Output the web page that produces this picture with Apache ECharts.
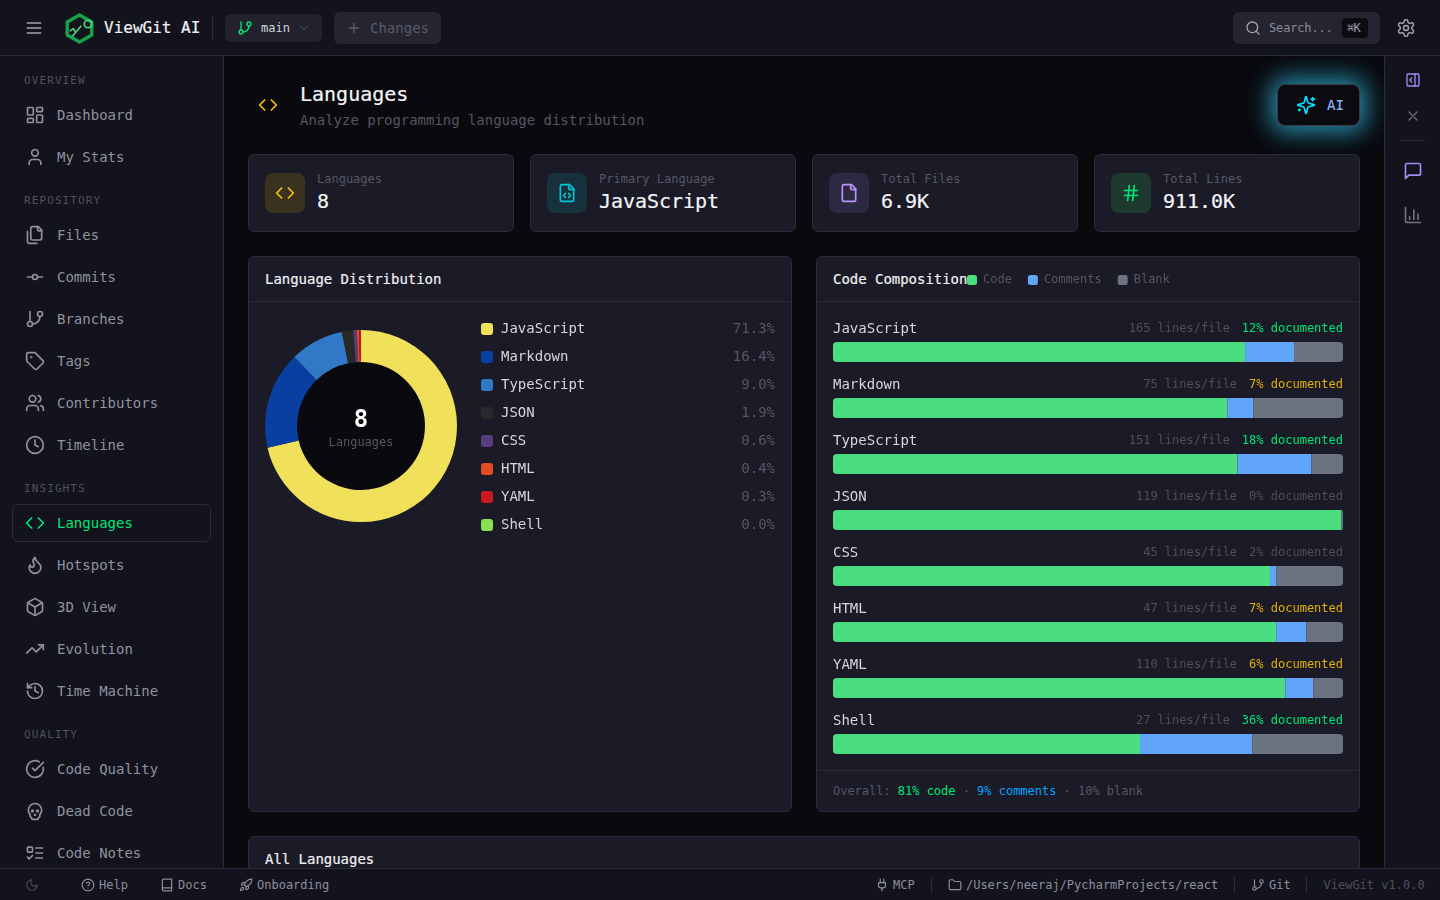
<!DOCTYPE html>
<html><head><meta charset="utf-8">
<script src="https://cdn.jsdelivr.net/npm/echarts@6/dist/echarts.min.js"></script>
<style>
html,body{margin:0;padding:0;width:1440px;height:900px;overflow:hidden;background:#09090e;font-family:"DejaVu Sans Mono",monospace}
#root{position:absolute;left:0;top:0;width:1440px;height:900px;overflow:hidden}
.b{position:absolute;box-sizing:border-box}
.t{position:absolute;white-space:pre;line-height:1;transform:translateY(-50%)}
svg.i{position:absolute;fill:none;stroke-linecap:round;stroke-linejoin:round}
</style></head><body><div id="root"></div>
<script>
// ---- chart data ----
const languages   = ['JavaScript','Markdown','TypeScript','JSON','CSS','HTML','YAML','Shell'];
const sharePct    = [71.3,16.4,9.0,1.9,0.6,0.4,0.3,0.0];
const langColors  = ['#f1e05a','#083fa1','#3178c6','#292929','#563d7c','#e34c26','#cb171e','#89e051'];
const codePct     = [80.8,77.3,79.3,99.7,85.7,86.9,88.7,60.2];
const commentPct  = [9.6,5.1,14.5,0,1.2,5.9,5.5,22.0];
const blankPct    = [9.6,17.6,6.2,0.3,13.1,7.2,5.8,17.8];
const linesPerFile= [165,75,151,119,45,47,110,27];
const documented  = [12,7,18,0,2,7,6,36];
const statLabels  = ['Languages','Primary Language','Total Files','Total Lines'];
const statValues  = ['8','JavaScript','6.9K','911.0K'];

const C={bg:'#09090e',bar:'#12131c',card:'#1a1b26',line:'#2a2b38',nav:'#91919f',dim:'#565664',
  sec:'#51515f',green:'#00e676',amber:'#ffc107',code:'#4ade80',com:'#60a5fa',blank:'#6b7280'};
const FONT='"DejaVu Sans Mono",monospace';
const MED='-webkit-text-stroke:.2px currentColor;';
const root=document.getElementById('root');
function box(x,y,w,h,st){const d=document.createElement('div');d.className='b';
  d.style.cssText+=`left:${x}px;top:${y}px;width:${w}px;height:${h}px;`+(st||'');root.appendChild(d);return d;}
function txt(x,y,s,size,color,st){const d=document.createElement('div');d.className='t';
  d.style.cssText+=`left:${x}px;top:${y}px;font-size:${size}px;color:${color};`+(st||'');d.innerHTML=s;root.appendChild(d);return d;}
function ico(cx,cy,size,color,inner,sw){const s=document.createElementNS('http://www.w3.org/2000/svg','svg');
  s.setAttribute('class','i');s.setAttribute('viewBox','0 0 24 24');s.setAttribute('width',size);s.setAttribute('height',size);
  s.style.left=(cx-size/2)+'px';s.style.top=(cy-size/2)+'px';s.style.stroke=color;s.style.strokeWidth=sw||2;s.innerHTML=inner;root.appendChild(s);}
const P=d=>`<path d="${d}"/>`;
const IC={
 dash:'<rect x="3" y="3" width="7" height="9" rx="1"/><rect x="14" y="3" width="7" height="5" rx="1"/><rect x="14" y="12" width="7" height="9" rx="1"/><rect x="3" y="16" width="7" height="5" rx="1"/>',
 user:P('M19 21v-2a4 4 0 0 0-4-4H9a4 4 0 0 0-4 4v2')+'<circle cx="12" cy="7" r="4"/>',
 files:P('M20 7h-3a2 2 0 0 1-2-2V2')+P('M9 18a2 2 0 0 1-2-2V4a2 2 0 0 1 2-2h7l4 4v10a2 2 0 0 1-2 2Z')+P('M3 7.6v12.8A1.6 1.6 0 0 0 4.6 22h9.8'),
 commit:'<circle cx="12" cy="12" r="3"/>'+P('M3 12h6M15 12h6'),
 branch:P('M6 3v12')+'<circle cx="18" cy="6" r="3"/><circle cx="6" cy="18" r="3"/>'+P('M18 9a9 9 0 0 1-9 9'),
 tag:P('M12.586 2.586A2 2 0 0 0 11.172 2H4a2 2 0 0 0-2 2v7.172a2 2 0 0 0 .586 1.414l8.704 8.704a2.426 2.426 0 0 0 3.42 0l6.58-6.58a2.426 2.426 0 0 0 0-3.42z')+'<circle cx="7.5" cy="7.5" r=".5"/>',
 users:P('M16 21v-2a4 4 0 0 0-4-4H6a4 4 0 0 0-4 4v2')+'<circle cx="9" cy="7" r="4"/>'+P('M22 21v-2a4 4 0 0 0-3-3.87')+P('M16 3.13a4 4 0 0 1 0 7.75'),
 clock:'<circle cx="12" cy="12" r="10"/>'+P('M12 6v6l4 2'),
 code:P('M16 18l6-6-6-6')+P('M8 6l-6 6 6 6'),
 flame:P('M8.5 14.5A2.5 2.5 0 0 0 11 12c0-1.38-.5-2-1-3-1.072-2.143-.224-4.054 2-6 .5 2.5 2 4.9 4 6.5 2 1.6 3 3.5 3 5.5a7 7 0 1 1-14 0c0-1.153.433-2.294 1-3a2.5 2.5 0 0 0 2.5 2.5z'),
 box:P('M21 8a2 2 0 0 0-1-1.73l-7-4a2 2 0 0 0-2 0l-7 4A2 2 0 0 0 3 8v8a2 2 0 0 0 1 1.73l7 4a2 2 0 0 0 2 0l7-4A2 2 0 0 0 21 16Z')+P('m3.3 7 8.7 5 8.7-5')+P('M12 22V12'),
 trend:P('M22 7l-8.5 8.5-5-5L2 17')+P('M16 7h6v6'),
 hist:P('M3 12a9 9 0 1 0 9-9 9.75 9.75 0 0 0-6.74 2.74L3 8')+P('M3 3v5h5')+P('M12 7v5l4 2'),
 check:P('M21.801 10A10 10 0 1 1 17 3.335')+P('m9 11 3 3L22 4'),
 skull:P('m12.5 17-.5-1-.5 1h1z')+P('M15 22a1 1 0 0 0 1-1v-1a2 2 0 0 0 1.56-3.25 8 8 0 1 0-11.12 0A2 2 0 0 0 8 20v1a1 1 0 0 0 1 1z')+'<circle cx="15" cy="12" r="1"/><circle cx="9" cy="12" r="1"/>',
 todo:'<rect x="3" y="5" width="6" height="6" rx="1"/>'+P('m3 17 2 2 4-4')+P('M13 6h8M13 12h8M13 18h8'),
 plus:P('M5 12h14M12 5v14'),search:'<circle cx="11" cy="11" r="8"/>'+P('m21 21-4.3-4.3'),
 gear:P('M12.22 2h-.44a2 2 0 0 0-2 2v.18a2 2 0 0 1-1 1.73l-.43.25a2 2 0 0 1-2 0l-.15-.08a2 2 0 0 0-2.73.73l-.22.38a2 2 0 0 0 .73 2.73l.15.1a2 2 0 0 1 1 1.72v.51a2 2 0 0 1-1 1.74l-.15.09a2 2 0 0 0-.73 2.73l.22.38a2 2 0 0 0 2.73.73l.15-.08a2 2 0 0 1 2 0l.43.25a2 2 0 0 1 1 1.73V20a2 2 0 0 0 2 2h.44a2 2 0 0 0 2-2v-.18a2 2 0 0 1 1-1.73l.43-.25a2 2 0 0 1 2 0l.15.08a2 2 0 0 0 2.73-.73l.22-.39a2 2 0 0 0-.73-2.73l-.15-.08a2 2 0 0 1-1-1.74v-.5a2 2 0 0 1 1-1.74l.15-.09a2 2 0 0 0 .73-2.73l-.22-.38a2 2 0 0 0-2.73-.73l-.15.08a2 2 0 0 1-2 0l-.43-.25a2 2 0 0 1-1-1.73V4a2 2 0 0 0-2-2z')+'<circle cx="12" cy="12" r="3"/>',
 spark:P('M9.937 15.5A2 2 0 0 0 8.5 14.063l-6.135-1.582a.5.5 0 0 1 0-.962L8.5 9.936A2 2 0 0 0 9.937 8.5l1.582-6.135a.5.5 0 0 1 .963 0L14.063 8.5A2 2 0 0 0 15.5 9.937l6.135 1.581a.5.5 0 0 1 0 .964L15.5 14.063a2 2 0 0 0-1.437 1.437l-1.582 6.135a.5.5 0 0 1-.963 0z')+P('M20 3v4M22 5h-4M4 17v2M5 18H3'),
 fcode:P('M10 12.5 8 15l2 2.5')+P('m14 12.5 2 2.5-2 2.5')+P('M14 2v4a2 2 0 0 0 2 2h4')+P('M15 2H6a2 2 0 0 0-2 2v16a2 2 0 0 0 2 2h12a2 2 0 0 0 2-2V7z'),
 file:P('M15 2H6a2 2 0 0 0-2 2v16a2 2 0 0 0 2 2h12a2 2 0 0 0 2-2V7Z')+P('M14 2v4a2 2 0 0 0 2 2h4'),
 hash:P('M4 9h16M4 15h16M10 3 8 21M16 3l-2 18'),
 panel:'<rect x="3" y="3" width="18" height="18" rx="2"/>'+P('M15 3v18')+P('m10 15-3-3 3-3'),
 x:P('M18 6 6 18M6 6l12 12'),
 msg:P('M21 15a2 2 0 0 1-2 2H7l-4 4V5a2 2 0 0 1 2-2h14a2 2 0 0 1 2 2z'),
 chart:P('M3 3v16a2 2 0 0 0 2 2h16')+P('M18 17v-6M13 17V6M8 17v-3'),
 moon:P('M12 3a6 6 0 0 0 9 9 9 9 0 1 1-9-9Z'),
 help:'<circle cx="12" cy="12" r="10"/>'+P('M9.09 9a3 3 0 0 1 5.83 1c0 2-3 3-3 3')+P('M12 17h.01'),
 book:P('M4 19.5v-15A2.5 2.5 0 0 1 6.5 2H20v20H6.5a2.5 2.5 0 0 1 0-5H20'),
 rocket:P('M4.5 16.5c-1.5 1.26-2 5-2 5s3.74-.5 5-2c.71-.84.7-2.13-.09-2.91a2.18 2.18 0 0 0-2.91-.09z')+P('m12 15-3-3a22 22 0 0 1 2-3.95A12.88 12.88 0 0 1 22 2c0 2.72-.78 7.5-6 11a22.35 22.35 0 0 1-4 2z')+P('M9 12H4s.55-3.03 2-4c1.62-1.08 5 0 5 0')+P('M12 15v5s3.03-.55 4-2c1.08-1.62 0-5 0-5'),
 plug:P('M12 22v-5M9 8V2M15 8V2')+P('M18 8v5a4 4 0 0 1-4 4h-4a4 4 0 0 1-4-4V8Z'),
 folder:P('M20 20a2 2 0 0 0 2-2V8a2 2 0 0 0-2-2h-7.9a2 2 0 0 1-1.69-.9L9.6 3.9A2 2 0 0 0 7.93 3H4a2 2 0 0 0-2 2v13a2 2 0 0 0 2 2Z'),
 chev:P('m6 9 6 6 6-6'),menu:P('M4 6h16M4 12h16M4 18h16')
};
// ---- frame ----
box(0,0,1440,56,`background:${C.bar};border-bottom:1px solid ${C.line}`);
box(0,56,224,812,`background:${C.bar};border-right:1px solid ${C.line}`);
box(1384,56,56,812,`background:${C.bar};border-left:1px solid ${C.line}`);
// ---- top bar ----
ico(34,28,20,'#a4a4b0',IC.menu);
ico(79.5,28,31,'#16a34a',P('M12 1.5 21.5 7v10L12 22.5 2.5 17V7z'),2.6);
ico(87.5,24,10,'#4ade80','<circle cx="12" cy="12" r="9"/>',4);
ico(75,32,14,'#4ade80',P('M22 2 8 19')+P('M4 10l5-4 3 5'),2.6);
txt(104,27.5,'ViewGit AI',16,'#f0f0f4',MED);
box(212,16,1,24,`background:${C.line}`);
box(225,14,97,28,'background:#21222d;border-radius:6px');
ico(245,28,16,C.green,IC.branch);
txt(261,28,'main',12,'#d4d4dc');
ico(304,28,12,'#5d5d6b',IC.chev);
box(334,12,107,32,'background:#242530;border-radius:6px');
ico(354,28,16,'#5d5d6b',IC.plus);
txt(370,28,'Changes',14,'#5b5b69');
box(1233,12,147,32,'background:#242530;border-radius:6px');
ico(1253,28,16,'#a4a4b0',IC.search);
txt(1269,28,'Search...',12,'#8a8a98','letter-spacing:-.15px');
box(1342,18,26,20,'background:#0b0b10;border-radius:4px');
txt(1347,28,'⌘K',12,'#9a9aa6','letter-spacing:-.6px');
ico(1406,28,20,'#a4a4b0',IC.gear,1.8);
// ---- sidebar ----
const sections=[['OVERVIEW',80],['REPOSITORY',200],['INSIGHTS',488],['QUALITY',734]];
const navItems=[['Dashboard',115,'dash'],['My Stats',157,'user'],['Files',235,'files'],['Commits',277,'commit'],['Branches',319,'branch'],['Tags',361,'tag'],['Contributors',403,'users'],['Timeline',445,'clock'],['Languages',523,'code'],['Hotspots',565,'flame'],['3D View',607,'box'],['Evolution',649,'trend'],['Time Machine',691,'hist'],['Code Quality',769,'check'],['Dead Code',811,'skull'],['Code Notes',853,'todo']];
sections.forEach(s=>txt(24,s[1],s[0],11,C.sec,'letter-spacing:1.1px'));
box(12,504,199,38,`border:1px solid ${C.line};border-radius:6px`);
navItems.forEach(n=>{const on=n[0]==='Languages';ico(35,n[1],20,on?C.green:C.nav,IC[n[2]]);
  txt(57,n[1],n[0],14,on?C.green:C.nav);});
// ---- page header ----
ico(268,105,20,C.amber,IC.code);
txt(300,94,'Languages',20,'#f4f4f8',MED);
txt(300,120,'Analyze programming language distribution',14,C.dim,'letter-spacing:-.03px');
box(1277,84,83,42,'background:#0a0a10;border:1px solid #3a3b46;border-radius:8px;box-shadow:0 0 24px 6px rgba(50,190,230,.75)');
ico(1306,105,20,'#00e5ff',IC.spark);
txt(1327,105,'AI',14,'#8fb4f8',MED);
// ---- right rail ----
ico(1413,80,16,'#a78bfa',IC.panel);ico(1413,116,16,'#6a6a78',IC.x);
box(1401,140,24,1,`background:${C.line}`);
ico(1413,171,20,'#a78bfa',IC.msg);ico(1413,215,20,'#71717f',IC.chart);
// ---- stat cards ----
const statStyle=[['#39321f',C.amber,'code'],['#17323c','#00c4d8','fcode'],['#2d2942','#b794f6','file'],['#1e3a2e',C.green,'hash']];
statLabels.forEach((l,i)=>{const x=248+282*i;
  box(x,154,266,78,`background:${C.card};border:1px solid ${C.line};border-radius:6px`);
  box(x+17,173,40,40,`background:${statStyle[i][0]};border-radius:8px`);
  ico(x+37,193,20,statStyle[i][1],IC[statStyle[i][2]]);
  txt(x+69,179,l,12,C.dim);
  txt(x+69,201,statValues[i],20,'#f4f4f8',MED+'letter-spacing:-.04px');});
// ---- panels ----
[[248,544],[816,544]].forEach(p=>{box(p[0],256,p[1],556,`background:${C.card};border:1px solid ${C.line};border-radius:6px`);
  box(p[0]+1,301,p[1]-2,1,`background:${C.line}`);});
txt(265,279,'Language Distribution',14,'#f0f0f4',MED+'letter-spacing:-.03px');
txt(833,279,'Code Composition',14,'#f0f0f4',MED+'letter-spacing:-.03px');
box(817,770,542,1,`background:${C.line}`);
txt(833,791,`Overall: <span style="color:${C.green}">81% code</span> · <span style="color:#00a3ff">9% comments</span> · 10% blank`,12,C.dim,'letter-spacing:-.02px');
box(248,836,1112,70,`background:${C.card};border:1px solid ${C.line};border-radius:6px`);
txt(265,859,'All Languages',14,'#f0f0f4',MED+'letter-spacing:-.03px');
box(297,362,128,128,`background:${C.bg};border-radius:50%`);
// ---- status bar ----
box(0,868,1440,32,`background:${C.bar};border-top:1px solid ${C.line}`);
const S='#8e8e9c';
ico(32,885,14,'#4b4b58',IC.moon);
ico(88,885,14,S,IC.help);txt(99,885,'Help',12,S);
ico(167,885,14,S,IC.book);txt(178,885,'Docs',12,S);
ico(246,885,14,S,IC.rocket);txt(257,885,'Onboarding',12,S);
ico(882,885,14,S,IC.plug);txt(893,885,'MCP',12,S);
box(931,877,1,16,`background:${C.line}`);
ico(955,885,14,S,IC.folder);txt(966,885,'/Users/neeraj/PycharmProjects/react',12,S,'letter-spacing:-.02px');
box(1234,877,1,16,`background:${C.line}`);
ico(1258,885,14,S,IC.branch);txt(1269,885,'Git',12,S);
box(1306,877,1,16,`background:${C.line}`);
txt(1323.5,885,'ViewGit v1.0.0',12,'#4e4e5c');

// ---- donut ----
function chartDiv(x,y,w,h){const d=box(x,y,w,h);return echarts.init(d,null,{renderer:'canvas'});}
const pie=chartDiv(249,302,542,460);
pie.setOption({
  animation:false,
  textStyle:{fontFamily:FONT},
  legend:{orient:'vertical',left:227,top:15,itemWidth:12,itemHeight:12,itemGap:14,icon:'roundRect',selectedMode:false,
    data:languages,
    formatter:n=>`{n|${n}}{v|${sharePct[languages.indexOf(n)].toFixed(1)}%}`,
    textStyle:{rich:{n:{width:227,fontSize:14,fontFamily:FONT,color:'#d6d6de',lineHeight:14,padding:[0,0,0,3]},
                     v:{width:47,align:'right',fontSize:14,fontFamily:FONT,color:C.dim,lineHeight:14}}}},
  graphic:[
    {type:'text',x:112,y:119,style:{text:'8',font:'bold 24px '+FONT,fill:'#fff',textAlign:'center',textVerticalAlign:'middle'}},
    {type:'text',x:112,y:141,style:{text:'Languages',font:'12px '+FONT,fill:C.dim,textAlign:'center',textVerticalAlign:'middle'}}
  ],
  series:[{type:'pie',center:[112,124],radius:[64,96],startAngle:90,clockwise:true,silent:true,
    label:{show:false},labelLine:{show:false},
    data:languages.map((n,i)=>({name:n,value:sharePct[i],itemStyle:{color:langColors[i]}}))}]
});
// ---- stacked composition bars ----
const comp=chartDiv(817,257,542,523);
const stackSeries=(name,vals,color,radius)=>({name,type:'bar',stack:'c',barWidth:20,data:vals,
  itemStyle:{color,borderRadius:radius},silent:true,z:2});
comp.setOption({
  animation:false,
  textStyle:{fontFamily:FONT},
  legend:{left:145,top:12,itemWidth:10,itemHeight:10,itemGap:16,icon:'roundRect',selectedMode:false,
    data:['Code','Comments','Blank'],textStyle:{fontSize:12,fontFamily:FONT,color:C.dim,padding:[0,0,0,1]}},
  grid:{left:16,right:16,top:67,height:448,containLabel:false},
  xAxis:{type:'value',min:0,max:100,show:false},
  yAxis:[
    {type:'category',inverse:true,data:languages,axisLine:{show:false},axisTick:{show:false},splitLine:{show:false},
     axisLabel:{show:true,interval:0,inside:true,margin:0,align:'left',verticalAlign:'middle',padding:[0,0,46,0],
       formatter:n=>`{n|${n}}`,
       rich:{n:{fontSize:14,fontFamily:FONT,color:'#d6d6de'}}}},
    {type:'category',inverse:true,position:'right',data:languages,axisLine:{show:false},axisTick:{show:false},splitLine:{show:false},
     axisLabel:{inside:true,interval:0,margin:0,align:'right',verticalAlign:'middle',padding:[0,0,46,0],
       formatter:(n,i)=>`{l|${linesPerFile[i]} lines/file}{${documented[i]>=10?'g':(documented[i]>=5?'a':'z')}|${documented[i]}% documented}`,
       rich:{l:{fontSize:12,fontFamily:FONT,color:'#4f4f5c'},
             g:{fontSize:12,fontFamily:FONT,color:C.green,padding:[0,0,0,12]},
             a:{fontSize:12,fontFamily:FONT,color:'#e6b000',padding:[0,0,0,12]},
             z:{fontSize:12,fontFamily:FONT,color:'#4f4f5c',padding:[0,0,0,12]}}}}
  ],
  series:[
    stackSeries('Code',codePct,C.code,[4,0,0,4]),
    stackSeries('Comments',commentPct,C.com,0),
    stackSeries('Blank',blankPct,C.blank,[0,4,4,0])
  ]
});
</script></body></html>
